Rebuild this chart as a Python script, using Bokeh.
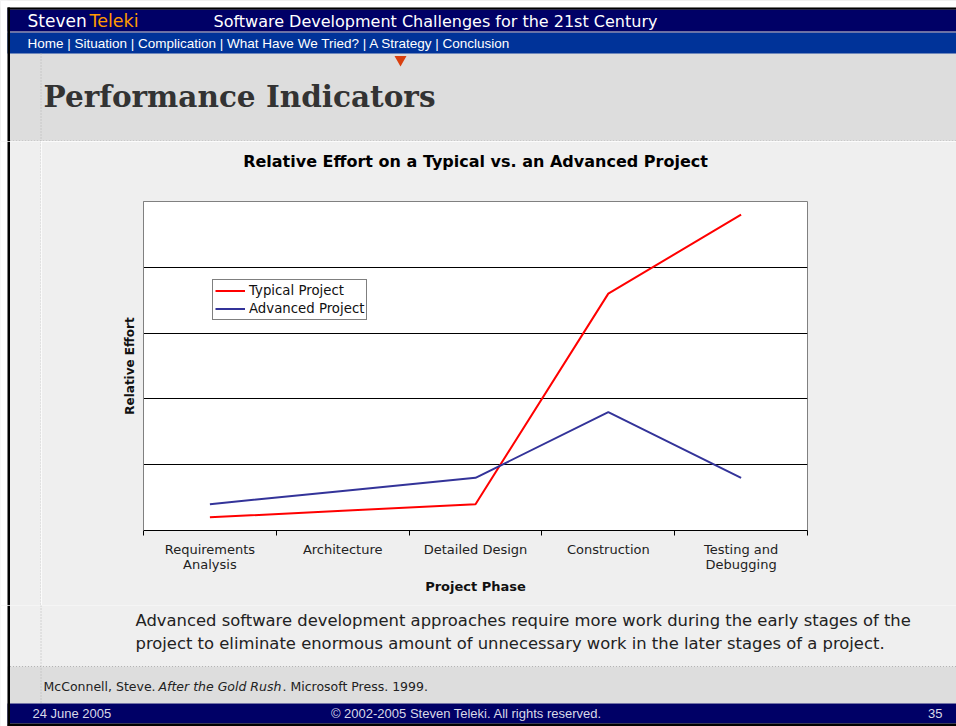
from bokeh.plotting import figure
from bokeh.layouts import column, row
from bokeh.models import Range1d, FixedTicker, LinearAxis
from bokeh.core.properties import value
from bokeh.embed import file_html
from bokeh.resources import INLINE

# ---------------- data ----------------
phases = ["Requirements\nAnalysis", "Architecture", "Detailed Design", "Construction", "Testing and\nDebugging"]
typical = [1, 1.5, 2, 18, 24]
advanced = [2, 3, 4, 9, 4]
effort_ticks = [0, 5, 10, 15, 20, 25]

chart_title = "Relative Effort on a Typical vs. an Advanced Project"
slide_title = "Performance Indicators"
header_text = "Software Development Challenges for the 21st Century"
nav_text = "Home | Situation | Complication | What Have We Tried? | A Strategy | Conclusion"
para_lines = [
    "Advanced software development approaches require more work during the early stages of the",
    "project to eliminate enormous amount of unnecessary work in the later stages of a project.",
]

NAVY = "#000066"
BLUE = "#003399"
GRAY = "#dddddd"
BODY = "#efefef"
DOT = "#b4b4b4"
SANS = value("DejaVu Sans")
ARIAL = value("Liberation Sans")
W = 956
MID_TOP, MID_BOT = 141, 605   # screen rows of the chart band
STRIP_W = 41


def panel(width, height, x0, x1, y0, y1, bg):
    f = figure(width=width, height=height, x_range=Range1d(x0, x1), y_range=Range1d(y1, y0),
               output_backend="svg", toolbar_location=None, min_border=0, title=None,
               x_axis_location=None, y_axis_location=None)
    f.grid.visible = False
    f.outline_line_color = None
    f.background_fill_color = bg
    f.border_fill_color = bg
    f.quad(left=x0, right=x1, top=y0, bottom=y1, color=bg, line_color=None)
    return f


# ---------------- header (screen y 0..141) ----------------
hdr = panel(W, MID_TOP, 0, W, 0, MID_TOP, GRAY)
hdr.quad(left=0, right=W, top=0, bottom=7, color="white", line_color=None)
hdr.quad(left=0, right=7, top=0, bottom=MID_TOP, color="white", line_color=None)
hdr.quad(left=7, right=W, top=7, bottom=9.3, color="black", line_color=None)
hdr.quad(left=7, right=W, top=9.3, bottom=31, color=NAVY, line_color=None)
hdr.quad(left=7, right=W, top=31, bottom=32.3, color="#7070a0", line_color=None)
hdr.quad(left=7, right=W, top=32.3, bottom=53, color=BLUE, line_color=None)
hdr.quad(left=7, right=9.5, top=7, bottom=MID_TOP, color="black", line_color=None)
hdr.segment(x0=40.5, y0=53, x1=40.5, y1=MID_TOP, line_color=DOT, line_dash="1 2", line_width=1)
hdr.segment(x0=9.5, y0=140.5, x1=W, y1=140.5, line_color=DOT, line_dash="1 2", line_width=1)
hdr.scatter(x=[400], y=[59], marker="inverted_triangle", size=12, color="#d9400f", line_color=None)
hdr.text(x=[27], y=[20.5], text=["Steven"], text_font=SANS, text_font_size="17px",
         text_color="white", text_baseline="middle")
hdr.text(x=[89], y=[20.5], text=["Teleki"], text_font=SANS, text_font_size="17.5px",
         text_color="#ff9900", text_baseline="middle")
hdr.text(x=[213], y=[20.5], text=[header_text], text_font=SANS, text_font_size="16px",
         text_color="white", text_baseline="middle")
hdr.text(x=[27], y=[43], text=[nav_text], text_font=ARIAL, text_font_size="13.5px",
         text_color="white", text_baseline="middle")
hdr.text(x=[43], y=[96], text=[slide_title], text_font=value("DejaVu Serif"), text_font_size="29.5px",
         text_font_style="bold", text_color="#333333", text_baseline="middle")

# ---------------- left strip next to chart (screen x 0..41) ----------------
strip = panel(STRIP_W, MID_BOT - MID_TOP, 0, STRIP_W, MID_TOP, MID_BOT, BODY)
strip.quad(left=0, right=7, top=MID_TOP, bottom=MID_BOT, color="white", line_color=None)
strip.quad(left=7, right=9.5, top=MID_TOP, bottom=MID_BOT, color="black", line_color=None)
strip.segment(x0=40.5, y0=MID_TOP, x1=40.5, y1=MID_BOT, line_color=DOT, line_dash="1 2", line_width=1)

# ---------------- chart ----------------
xs = [i + 0.5 for i in range(len(phases))]
ch = figure(width=W - STRIP_W, height=MID_BOT - MID_TOP, x_range=Range1d(0, len(phases)),
            y_range=Range1d(effort_ticks[0], effort_ticks[-1]), title=None,
            output_backend="svg", toolbar_location=None,
            min_border_left=143 - STRIP_W, min_border_right=W - 807, min_border_top=60, min_border_bottom=75)
ch.background_fill_color = "white"
ch.border_fill_color = BODY
ch.outline_line_color = "#808080"

xa = ch.below[0]
ya = ch.left[0]

xa.ticker = FixedTicker(ticks=xs, minor_ticks=list(range(len(phases) + 1)))
xa.major_label_overrides = {x: lab for x, lab in zip(xs, phases)}
xa.major_tick_in = 0
xa.major_tick_out = 0
xa.minor_tick_in = 0
xa.minor_tick_out = 5
xa.minor_tick_line_color = "black"
xa.axis_line_color = "black"
xa.major_label_text_font = "DejaVu Sans"
xa.major_label_text_font_size = "13px"
xa.major_label_text_color = "#222222"
xa.major_label_text_line_height = 1.05
xa.major_label_standoff = 6
xa.axis_label = "Project Phase"
xa.axis_label_text_font = "DejaVu Sans"
xa.axis_label_text_font_size = "13px"
xa.axis_label_text_font_style = "bold"
xa.axis_label_text_color = "#111111"
xa.axis_label_standoff = 4

ya.ticker = FixedTicker(ticks=[])
ya.major_tick_in = 0
ya.major_tick_out = 0
ya.minor_tick_line_color = None
ya.major_label_standoff = 0
ya.axis_line_color = "#808080"
ya.axis_label = "Relative Effort"
ya.axis_label_text_font = "DejaVu Sans"
ya.axis_label_text_font_size = "12px"
ya.axis_label_text_font_style = "bold"
ya.axis_label_text_color = "#111111"
ya.axis_label_standoff = 7

# chart title carried by a bare axis above the plot area (standoff gives the gap)
title_axis = LinearAxis(ticker=FixedTicker(ticks=[]), major_tick_in=0, major_tick_out=0,
                        minor_tick_in=0, minor_tick_out=0, major_label_standoff=0,
                        axis_line_color=None, major_tick_line_color=None, minor_tick_line_color=None,
                        axis_label=chart_title, axis_label_standoff=31,
                        axis_label_text_font="DejaVu Sans", axis_label_text_font_size="16px",
                        axis_label_text_font_style="bold", axis_label_text_color="black")
ch.add_layout(title_axis, "above")

ch.xgrid.visible = False
ch.ygrid.ticker = FixedTicker(ticks=effort_ticks)
ch.ygrid.grid_line_color = "black"
ch.ygrid.grid_line_width = 1

ch.line(xs, typical, line_color="#ff0000", line_width=2, legend_label="Typical Project")
ch.line(xs, advanced, line_color="#333399", line_width=2, legend_label="Advanced Project")

lg = ch.legend[0]
lg.location = (69, 210)
lg.margin = 0
lg.padding = 2
lg.spacing = 1
lg.glyph_width = 30
lg.glyph_height = 17
lg.label_height = 17
lg.label_standoff = 4
lg.label_text_font = "DejaVu Sans"
lg.label_text_font_size = "13.3px"
lg.label_text_color = "#111111"
lg.border_line_color = "black"
lg.border_line_width = 1
lg.background_fill_color = "white"
lg.background_fill_alpha = 1

# ---------------- bottom (screen y 605..726) ----------------
bot = panel(W, 726 - MID_BOT, 0, W, MID_BOT, 726, BODY)
bot.quad(left=0, right=7, top=MID_BOT, bottom=726, color="white", line_color=None)
bot.quad(left=7, right=W, top=666, bottom=703, color=GRAY, line_color=None)
bot.quad(left=7, right=W, top=703, bottom=723, color=NAVY, line_color=None)
bot.quad(left=7, right=W, top=723, bottom=726, color="black", line_color=None)
bot.quad(left=7, right=9.5, top=MID_BOT, bottom=726, color="black", line_color=None)
bot.segment(x0=40.5, y0=MID_BOT, x1=40.5, y1=703, line_color=DOT, line_dash="1 2", line_width=1)
bot.segment(x0=9.5, y0=666, x1=W, y1=666, line_color=DOT, line_dash="1 2", line_width=1)
bot.text(x=[135, 135], y=[620, 643], text=para_lines, text_font=SANS, text_font_size="16.4px",
         text_color="#222222", text_baseline="middle")
bot.text(x=[43], y=[686], text=["McConnell, Steve."], text_font=SANS, text_font_size="12.5px",
         text_color="#222222", text_baseline="middle")
bot.text(x=[158], y=[686], text=["After the Gold Rush"], text_font=SANS, text_font_size="12.5px",
         text_font_style="italic", text_color="#222222", text_baseline="middle")
bot.text(x=[282], y=[686], text=[". Microsoft Press. 1999."], text_font=SANS, text_font_size="12.5px",
         text_color="#222222", text_baseline="middle")
bot.text(x=[32], y=[713], text=["24 June 2005"], text_font=ARIAL, text_font_size="13px",
         text_color="#d8d8e8", text_baseline="middle")
bot.text(x=[466], y=[713], text=["\u00a9 2002-2005 Steven Teleki. All rights reserved."], text_font=ARIAL,
         text_font_size="13px", text_color="#d8d8e8", text_baseline="middle", text_align="center")
bot.text(x=[942], y=[713], text=["35"], text_font=ARIAL, text_font_size="13px",
         text_color="#d8d8e8", text_baseline="middle", text_align="right")

layout = column(hdr, row(column(strip), ch), bot)

open("out.html", "w").write(file_html(layout, INLINE))
